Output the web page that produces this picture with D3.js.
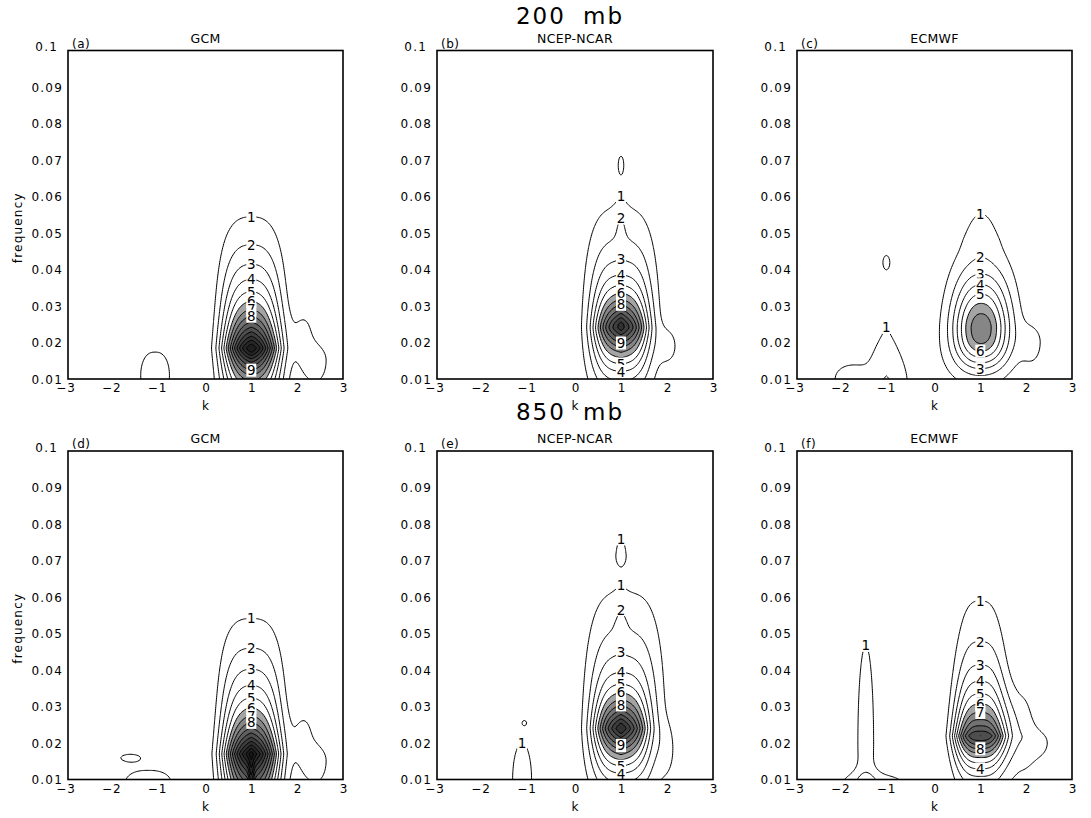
<!DOCTYPE html>
<html><head><meta charset="utf-8">
<script src="https://cdn.jsdelivr.net/npm/d3@7"></script>
<style>body{margin:0;background:#fff} svg text{font-family:"DejaVu Sans",sans-serif;fill:#000}</style>
</head><body><svg id="c" width="1091" height="818"></svg>
<script>
// ---------------- data ----------------
const kTicks = [-3, -2, -1, 0, 1, 2, 3];
const kTickLabels = ["\u22123", "\u22122", "\u22121", "0", "1", "2", "3"];
const fTicks = [0.01, 0.02, 0.03, 0.04, 0.05, 0.06, 0.07, 0.08, 0.09, 0.1];
const fTickLabels = ["0.01", "0.02", "0.03", "0.04", "0.05", "0.06", "0.07", "0.08", "0.09", "0.1"];
const levelTitles = ["200 mb", "850 mb"];
const sourceNames = ["GCM", "NCEP-NCAR", "ECMWF"];
const panelTags = ["(a)", "(b)", "(c)", "(d)", "(e)", "(f)"];
const contourLevels = [1, 2, 3, 4, 5, 6, 7, 8, 9, 10, 11, 12, 13, 14, 15, 16, 17, 18];
const shadeLevels = [6, 7, 8, 9, 10, 11, 12, 13, 14, 15];
const shadeGrays = ["#a4a4a4", "#868686", "#727272", "#5f5f5f", "#4e4e4e", "#3e3e3e", "#313131", "#272727", "#1f1f1f", "#181818"];

// spectral features:
// [k0, f0, amplitude, kWidth, kPower, fWidthBelow, fWidthAbove, fPowerBelow, fPowerAbove]
const featuresA = [
  [1.0, 0.020, 2.5, 0.74, 4, 0.030, 0.030, 2.5, 2.5],
  [1.0, 0.0185, 9.5, 0.57, 2.5, 0.011, 0.0125, 1.1, 1.1],
  [1.0, 0.018, 3.0, 0.30, 1.2, 0.005, 0.007, 1.3, 1.3],
  [2.15, 0.022, 1.2, 0.30, 2, 0.012, 0.009, 2, 2],
  [2.45, 0.015, 1.35, 0.30, 2, 0.008, 0.005, 2, 2],
  [-1.1, 0.011, 1.5, 0.45, 2.5, 0.010, 0.010, 2, 2]
];
const featuresB = [
  [1.0, 0.025, 2.8, 0.80, 3.5, 0.020, 0.030, 2.2, 2.2],
  [1.0, 0.024, 7.0, 0.56, 3, 0.0097, 0.01027, 1.285, 1.285],
  [1.0, 0.025, 3.0, 0.25, 1.2, 0.006, 0.006, 1.3, 1.3],
  [1.0, 0.052, 0.9, 0.12, 1.3, 0.006, 0.007, 1.5, 1.5],
  [2.05, 0.019, 1.2, 0.25, 2, 0.006, 0.006, 2, 2],
  [1.0, 0.069, 1.0, 0.10, 2, 0.004, 0.004, 2, 2],
  [-1.1, 0.0095, 1.15, 0.07, 2, 0.002, 0.0012, 2, 2]
];
const featuresC = [
  [1.02, 0.024, 6.9, 0.60, 2.2, 0.011, 0.014, 2.47, 1.7],
  [1.05, 0.028, 0.8, 0.90, 3, 0.020, 0.025, 2, 2],
  [1.02, 0.049, 0.8, 0.37, 2, 0.005, 0.012, 2, 2],
  [2.15, 0.020, 1.2, 0.30, 2, 0.008, 0.006, 2, 2],
  [-1.05, 0.010, 1.9, 0.70, 1, 0.010, 0.019, 1.5, 1.5],
  [-1.9, 0.010, 1.1, 0.35, 2, 0.010, 0.004, 2, 2],
  [-1.05, 0.042, 1.2, 0.12, 2, 0.003, 0.003, 2, 2],
  [-1.05, 0.0095, 0.4, 0.10, 2, 0.002, 0.0012, 2, 2]
];
const featuresD = [
  [1.0, 0.020, 2.5, 0.72, 4, 0.030, 0.031, 2.5, 2.5],
  [1.0, 0.017, 9.5, 0.57, 2.5, 0.016, 0.012, 1.1, 1.1],
  [1.0, 0.017, 3.0, 0.30, 1.2, 0.007, 0.007, 1.3, 1.3],
  [2.15, 0.022, 1.2, 0.30, 2, 0.012, 0.009, 2, 2],
  [2.45, 0.015, 1.35, 0.30, 2, 0.008, 0.005, 2, 2],
  [1.0, 0.010, 2.5, 0.06, 2, 0.006, 0.006, 2, 2],
  [-1.65, 0.016, 1.3, 0.30, 2, 0.0014, 0.0014, 2, 2],
  [-1.25, 0.009, 1.5, 0.72, 2.5, 0.004, 0.0055, 2, 2]
];
const featuresE = [
  [1.07, 0.025, 3.0, 0.85, 3.5, 0.020, 0.034, 2.2, 2.2],
  [1.0, 0.024, 7.0, 0.56, 3, 0.0097, 0.01027, 1.285, 1.285],
  [1.0, 0.024, 3.0, 0.25, 1.2, 0.006, 0.006, 1.3, 1.3],
  [1.0, 0.053, 0.9, 0.12, 1.3, 0.006, 0.007, 1.5, 1.5],
  [1.0, 0.0718, 0.9, 0.17, 2, 0.004, 0.009, 2, 2],
  [2.02, 0.018, 0.9, 0.20, 2, 0.008, 0.008, 2, 2],
  [-1.15, 0.010, 1.6, 0.30, 2, 0.010, 0.0145, 2, 2],
  [-1.1, 0.0255, 1.05, 0.06, 2, 0.0008, 0.0008, 2, 2]
];
const featuresF = [
  [1.0, 0.022, 11.0, 0.56, 3, 0.009, 0.0147, 1.23, 0.95],
  [1.85, 0.024, 1.6, 0.35, 2.5, 0.015, 0.012, 2, 2],
  [2.3, 0.020, 1.2, 0.35, 2, 0.006, 0.005, 2, 2],
  [-1.5, 0.020, 1.5, 0.27, 2, 0.020, 0.042, 2, 2],
  [-1.35, 0.009, 1.5, 0.90, 2.5, 0.005, 0.0035, 2, 2]
];

// contour labels: [level, k, scan direction, scan start frequency]
const labelsA = [[1,1,"top",0.1],[2,1,"top",0.1],[3,1,"top",0.1],[4,1,"top",0.1],[5,1,"top",0.1],[6,1,"top",0.1],[7,1,"top",0.1],[8,1,"top",0.1],[9,1,"bottom",0.01]];
const labelsB = [[1,1,"top",0.064],[2,1,"top",0.1],[3,1,"top",0.1],[4,1,"top",0.1],[5,1,"top",0.1],[6,1,"top",0.1],[8,1,"top",0.1],[9,1,"bottom",0.01],[5,1,"bottom",0.01],[4,1,"bottom",0.01]];
const labelsC = [[1,1,"top",0.1],[2,1,"top",0.1],[3,1,"top",0.1],[4,1,"top",0.1],[5,1,"top",0.1],[6,1,"bottom",0.01],[3,1,"bottom",0.01],[1,-1.05,"top",0.035]];
const labelsD = [[1,1,"top",0.1],[2,1,"top",0.1],[3,1,"top",0.1],[4,1,"top",0.1],[5,1,"top",0.1],[6,1,"top",0.1],[7,1,"top",0.1],[8,1,"top",0.1]];
const labelsE = [[1,1,"top",0.1],[1,1,"top",0.065],[2,1,"top",0.065],[3,1,"top",0.1],[4,1,"top",0.1],[5,1,"top",0.1],[6,1,"top",0.1],[8,1,"top",0.1],[9,1,"bottom",0.01],[5,1,"bottom",0.01],[4,1,"bottom",0.01],[1,-1.15,"top",0.024]];
const labelsF = [[1,1,"top",0.1],[2,1,"top",0.1],[3,1,"top",0.1],[4,1,"top",0.1],[5,1,"top",0.1],[6,1,"top",0.1],[7,1,"top",0.1],[8,1,"bottom",0.01],[4,1,"bottom",0.01],[1,-1.5,"top",0.1]];

const panels = [
  {tag: panelTags[0], src: sourceNames[0], feat: featuresA, labels: labelsA, col: 0, row: 0},
  {tag: panelTags[1], src: sourceNames[1], feat: featuresB, labels: labelsB, col: 1, row: 0},
  {tag: panelTags[2], src: sourceNames[2], feat: featuresC, labels: labelsC, col: 2, row: 0},
  {tag: panelTags[3], src: sourceNames[0], feat: featuresD, labels: labelsD, col: 0, row: 1},
  {tag: panelTags[4], src: sourceNames[1], feat: featuresE, labels: labelsE, col: 1, row: 1},
  {tag: panelTags[5], src: sourceNames[2], feat: featuresF, labels: labelsF, col: 2, row: 1}
];

// ---------------- layout ----------------
const colX = [68, 437, 797], colW = [275, 276, 275];
const rowY = [50.5, 451], boxH = 328.5;
const svg = d3.select("#c");

function fieldValue(feat, k, f) {
  let v = 0;
  for (const [k0, f0, A, sk, pk, sfd, sfu, pfd, pfu] of feat) {
    const dk = Math.abs(k - k0) / sk;
    const below = f < f0;
    const df = Math.abs(f - f0) / (below ? sfd : sfu);
    v += A * Math.exp(-Math.pow(dk, pk) - Math.pow(df, below ? pfd : pfu));
  }
  return v;
}

const nx = 241, ny = 181, dk = 0.025, dfs = 0.0005;

svg.selectAll("text.lev").data(levelTitles).join("text")
  .attr("x", 570).attr("y", (d, i) => i === 0 ? 24 : 420)
  .attr("text-anchor", "middle").style("font-size", "23px")
  .style("letter-spacing", "2px").style("word-spacing", "8px").text(d => d);

panels.forEach((p, pi) => {
  const x0 = colX[p.col], w = colW[p.col], y0 = rowY[p.row];
  const xs = d3.scaleLinear().domain([-3, 3]).range([x0, x0 + w]);
  const ys = d3.scaleLinear().domain([0.01, 0.1]).range([y0 + boxH, y0]);
  const g = svg.append("g");
  const clipId = "clip" + pi;
  g.append("clipPath").attr("id", clipId).append("rect")
    .attr("x", x0).attr("y", y0).attr("width", w).attr("height", boxH);

  const values = new Float64Array(nx * ny);
  for (let j = 0; j < ny; j++) for (let i = 0; i < nx; i++)
    values[j * nx + i] = fieldValue(p.feat, -3 + i * dk, 0.01 + j * dfs);

  const proj = d3.geoTransform({
    point: function (x, y) { this.stream.point(xs(-3 + (x - 0.5) * dk), ys(0.01 + (y - 0.5) * dfs)); }
  });
  const path = d3.geoPath(proj);
  const plot = g.append("g").attr("clip-path", `url(#${clipId})`);

  const shades = d3.contours().size([nx, ny]).thresholds(shadeLevels)(values);
  plot.selectAll("path.sh").data(shades).join("path")
    .attr("d", path).attr("fill", (d, i) => shadeGrays[i]).attr("stroke", "none");

  const lines = d3.contours().size([nx, ny]).thresholds(contourLevels)(values);
  plot.selectAll("path.ln").data(lines).join("path")
    .attr("d", path).attr("fill", "none").attr("stroke", "#000").attr("stroke-width", 1);

  // labels: first crossing of the level along the line k, scanning from a start frequency
  p.labels.forEach(([lev, kL, dir, f1]) => {
    const step = 0.00005, sgn = dir === "top" ? -1 : 1;
    let prev = fieldValue(p.feat, kL, f1), fFound = null;
    for (let f = f1 + sgn * step; f >= 0.01 - 1e-9 && f <= 0.1 + 1e-9; f += sgn * step) {
      const cur = fieldValue(p.feat, kL, f);
      if (prev < lev && cur >= lev) { fFound = f - sgn * step * (cur - lev) / (cur - prev); break; }
      prev = cur;
    }
    if (fFound === null) return;
    const lx = xs(kL), ly = ys(fFound);
    plot.append("rect").attr("x", lx - 5).attr("y", ly - 6.5).attr("width", 10).attr("height", 13).attr("fill", "#fff");
    plot.append("text").attr("x", lx).attr("y", ly + 5).attr("text-anchor", "middle")
      .style("font-size", "13.5px").text(lev);
  });

  // box
  g.append("rect").attr("x", x0).attr("y", y0).attr("width", w).attr("height", boxH)
    .attr("fill", "none").attr("stroke", "#000").attr("stroke-width", 1.6);

  // y tick labels
  g.selectAll("text.yt").data(fTicks).join("text")
    .attr("x", d => x0 - (d === 0.1 ? 10 : 5)).attr("y", d => ys(d) + (d === 0.1 ? 0.5 : 4.5)).attr("text-anchor", "end")
    .style("font-size", "12px").style("letter-spacing", "1.2px").text((d, i) => fTickLabels[i]);
  // x tick labels
  g.selectAll("text.xt").data(kTicks).join("text")
    .attr("x", d => xs(d) + (d < 0 ? -2 : 1)).attr("y", y0 + boxH + 13).attr("text-anchor", "middle")
    .style("font-size", "12px").style("letter-spacing", "1px").text((d, i) => kTickLabels[i]);
  g.append("text").attr("x", x0 + w / 2).attr("y", y0 + boxH + 31).attr("text-anchor", "middle")
    .style("font-size", "12px").text("k");
  if (p.col === 0) {
    g.append("text").attr("transform", `translate(22,${y0 + boxH / 2 + 13}) rotate(-90)`)
      .attr("text-anchor", "middle").style("font-size", "12px").style("letter-spacing", "1.2px").text("frequency");
  }
  g.append("text").attr("x", x0 + w / 2).attr("y", y0 - 8).attr("text-anchor", "middle")
    .style("font-size", "12.5px").style("letter-spacing", "0.3px").text(p.src);
  g.append("text").attr("x", x0 + 4).attr("y", y0 - 3).style("font-size", "12px").style("letter-spacing", "0.5px").text(p.tag);
});
</script></body></html>
